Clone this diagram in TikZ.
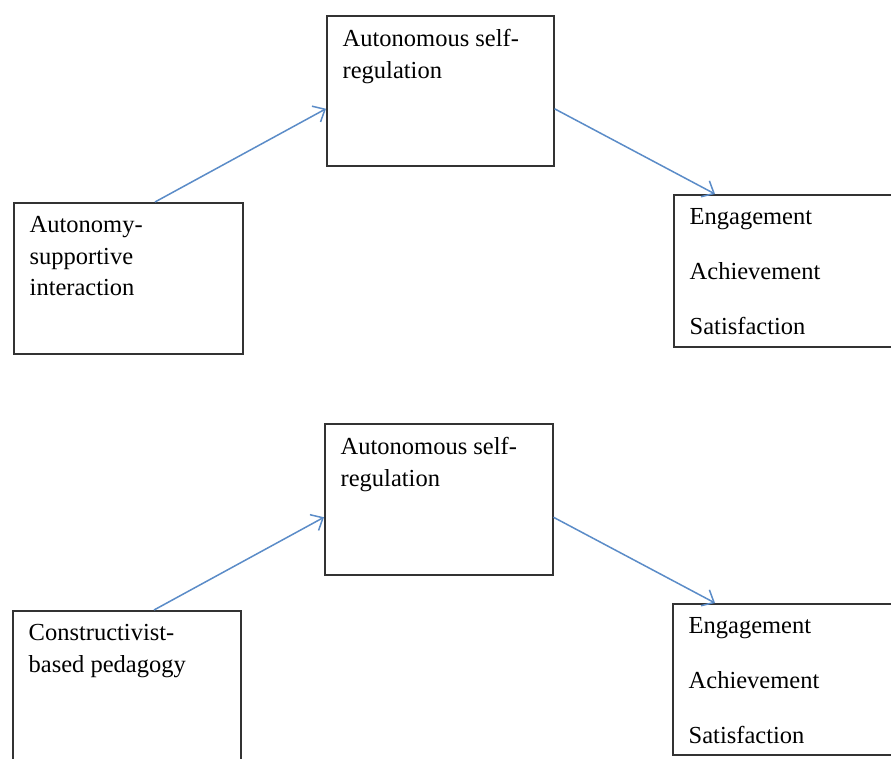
\documentclass[tikz,border=0pt]{standalone}
\usepackage{fontspec}
\setmainfont{Liberation Serif}
\usetikzlibrary{arrows.meta}

\begin{document}
\begin{tikzpicture}[x=1pt,y=-1pt]
\tikzstyle{box}=[draw=black!80,line width=1.5pt,rectangle,anchor=north west,inner sep=0pt]
\tikzstyle{txt}=[anchor=north west,inner sep=0pt,align=left,font=\fontsize{24.5}{31.5}\selectfont]
\tikzstyle{arr}=[draw={rgb,255:red,91;green,140;blue,200},line width=1.5pt,-{Straight Barb[length=10pt,width=18pt]}]
\fill[white] (0,0) rectangle (891,758);
\clip (0,0) rectangle (891,758);
% first model
\node[box, minimum width=227pt, minimum height=150pt] (a1) at (326,15){};
\node[box, minimum width=229pt, minimum height=151pt] (b1) at (13,202){};
\node[box, minimum width=230pt, minimum height=152pt] (c1) at (673,194){};
\node[txt] (ta1) at ([shift={(16.5,14.5)}]a1.north west) {Autonomous self-\\regulation};
\node[txt] (tb1) at ([shift={(16.5,14.5)}]b1.north west) {Autonomy-\\supportive\\interaction};
\node[txt, font=\fontsize{24.5}{55}\selectfont] (tc1) at ([shift={(16.5,14.5)}]c1.north west) {Engagement\\Achievement\\Satisfaction};
\draw[arr] ([xshift=142pt]b1.north west) -- ([yshift=-18pt]a1.west);
\draw[arr] ([yshift=-18pt]a1.east) -- ([xshift=42pt]c1.north west);
% second model
\node[box, minimum width=228pt, minimum height=151pt] (a2) at (324,423){};
\node[box, minimum width=228pt, minimum height=160pt] (b2) at (12,610){};
\node[box, minimum width=230pt, minimum height=151pt] (c2) at (672,603){};
\node[txt] (ta2) at ([shift={(16.5,14.5)}]a2.north west) {Autonomous self-\\regulation};
\node[txt] (tb2) at ([shift={(16.5,14.5)}]b2.north west) {Constructivist-\\based pedagogy};
\node[txt, font=\fontsize{24.5}{55}\selectfont] (tc2) at ([shift={(16.5,14.5)}]c2.north west) {Engagement\\Achievement\\Satisfaction};
\draw[arr] ([xshift=142pt]b2.north west) -- ([yshift=-18pt]a2.west);
\draw[arr] ([yshift=-18pt]a2.east) -- ([xshift=43pt]c2.north west);
\end{tikzpicture}
\end{document}
